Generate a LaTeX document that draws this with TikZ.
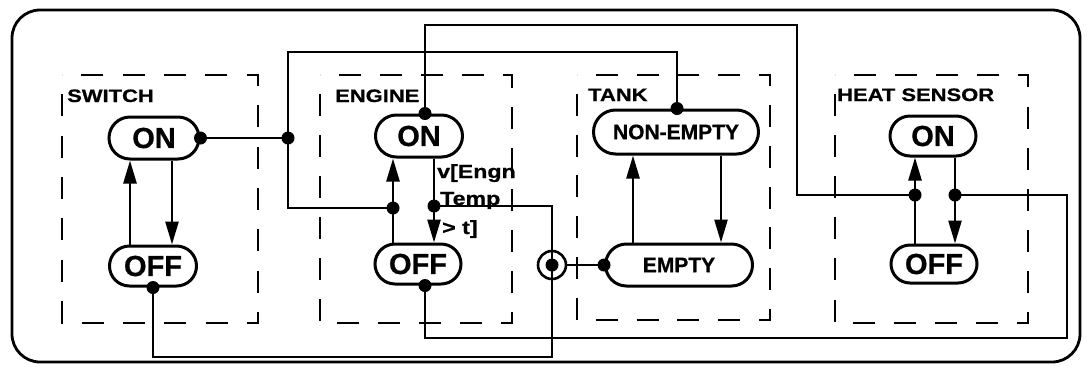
\documentclass[tikz,border=0pt]{standalone}
\usepackage{fontspec}
\setmainfont{Liberation Sans}
\newfontfamily\lblfont[FakeStretch=1.22,FakeBold=0.8]{Liberation Sans}
\newfontfamily\stfont[FakeBold=0.8]{Liberation Sans}
\usetikzlibrary{arrows.meta,shapes.misc,decorations}
\begin{document}
\begin{tikzpicture}[x=1pt,y=-1pt,
  state/.style={rounded rectangle, draw, line width=3pt, inner sep=0pt, font=\stfont\bfseries\fontsize{29}{29}\selectfont},
  tstate/.style={state, font=\stfont\bfseries\fontsize{21}{21}\selectfont},
  grp/.style={draw, line width=2.6pt, dash pattern=on 22pt off 18pt, dash expand off},
  wire/.style={line width=2.6pt},
  tr/.style={line width=2.6pt, -{Triangle[length=23pt,width=13pt]}},
  dot/.style={circle, fill, inner sep=0pt, minimum size=13pt},
  lbl/.style={font=\lblfont\bfseries\fontsize{18}{18}\selectfont, anchor=base west, inner sep=0pt},
  guard/.style={font=\lblfont\bfseries\fontsize{19}{19}\selectfont, anchor=base west, inner sep=0pt},
]
\useasboundingbox (0,0) rectangle (1087,368);
\draw[line width=2.8pt, rounded corners=28pt] (12,10) rectangle (1080,362);

% groups
\draw[grp] (62,75) rectangle (258,323);
\draw[grp] (320,75) rectangle (512,323);
\draw[grp] (577,75) rectangle (770,320);
\draw[grp] (835,75) rectangle (1028,323);

\node[lbl] (lsw) at (67,102) {SWITCH};
\node[lbl] (len) at (335,102) {ENGINE};
\node[lbl] (ltk) at (588,101) {TANK};
\node[lbl] (lhs) at (837,101) {HEAT SENSOR};

% states
\node[state, minimum width=90pt, minimum height=42pt] (swON) at (154,138) {ON};
\node[state, minimum width=87pt, minimum height=40pt] (swOFF) at (153,266) {OFF};
\node[state, minimum width=87pt, minimum height=42pt] (enON) at (419,136) {ON};
\node[state, minimum width=86pt, minimum height=40pt] (enOFF) at (418,264) {OFF};
\node[tstate, minimum width=165pt, minimum height=44pt] (tkNE) at (676,132) {NON-EMPTY};
\node[tstate, minimum width=147pt, minimum height=42pt] (tkE) at (679,265) {EMPTY};
\node[state, minimum width=86pt, minimum height=40pt] (hsON) at (933,136) {ON};
\node[state, minimum width=86pt, minimum height=38pt] (hsOFF) at (934,264) {OFF};

% transitions
\draw[tr] (swOFF.north -| 130,0) -- (swON.south -| 130,0);
\draw[tr] (swON.south -| 172,0) -- (swOFF.north -| 172,0);
\draw[tr] (enOFF.north -| 393,0) -- (enON.south -| 393,0);
\draw[tr] (enON.south -| 434,0) -- (enOFF.north -| 434,0);
\draw[tr] (tkE.north -| 633,0) -- (tkNE.south -| 633,0);
\draw[tr] (tkNE.south -| 721,0) -- (tkE.north -| 721,0);
\draw[tr] (hsOFF.north -| 915,0) -- (hsON.south -| 915,0);
\draw[tr] (hsON.south -| 955,0) -- (hsOFF.north -| 955,0);

% guard
\node[guard] (g1) at (437,178) {v[Engn};
\node[guard] (g2) at (440,205) {Temp};
\node[guard] (g3) at (442,234) {> t]};

% dots
\node[dot] (swONd) at (swON.east) {};
\node[dot] (swOFFd) at (swOFF.south) {};
\node[dot] (enONd) at (enON.north -| 425,0) {};
\node[dot] (enOFFd) at (enOFF.south -| 425,0) {};
\node[dot] (tkNEd) at (tkNE.north -| 677,0) {};
\node[dot] (tkEd) at (tkE.west) {};
\node[dot] (j1) at (288,138) {};
\node[dot] (d1) at (393,208) {};
\node[dot] (d2) at (434,206) {};
\node[dot] (d3) at (915,195) {};
\node[dot] (d4) at (955,195) {};
\node[circle, draw, line width=2.6pt, minimum size=28pt, inner sep=0pt] (cc) at (552,265) {};
\node[dot] (ccd) at (cc.center) {};

% corner coordinates
\coordinate (c1) at (288,52);
\coordinate (c2) at (797,25);
\coordinate (c3) at (552,357);
\coordinate (c4) at (1067,338);

% wires
\draw[wire] (swONd.center) -- (j1.center);
\draw[wire] (d1.center) -| (c1) -| (tkNEd.center);
\draw[wire] (enONd.center) |- (c2) |- (d3.center);
\draw[wire] (d2.center) -| (ccd.center) -- (c3) -| (swOFFd.center);
\draw[wire] (cc.east) -- (tkEd.center);
\draw[wire] (enOFFd.center) |- (c4) |- (d4.center);
\end{tikzpicture}
\end{document}
